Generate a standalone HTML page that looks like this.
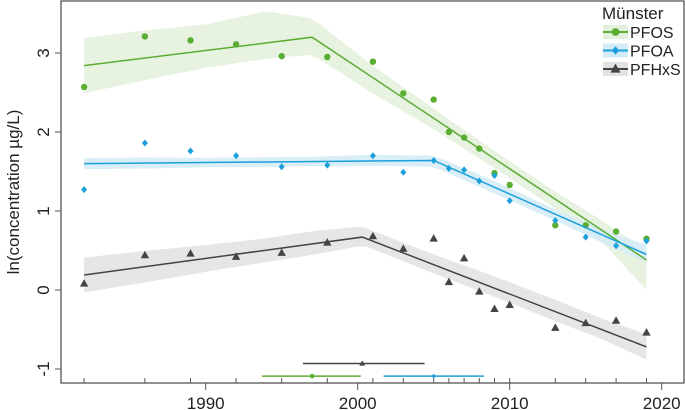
<!DOCTYPE html>
<html><head><meta charset="utf-8"><style>
body{margin:0;background:#fff}
svg{display:block;font-family:"Liberation Sans",Arial,sans-serif}
</style></head><body>
<svg id="chart" width="685" height="410"></svg>
<script>
const years=[1982,1986,1989,1992,1995,1998,2001,2003,2005,2006,2007,2008,2009,2010,2013,2015,2017,2019];
const pfos=[2.57,3.21,3.16,3.11,2.96,2.95,2.89,2.49,2.41,2.0,1.93,1.79,1.48,1.33,0.82,0.82,0.74,0.65];
const pfoa=[1.27,1.86,1.76,1.70,1.56,1.58,1.70,1.49,1.64,1.54,1.52,1.38,1.45,1.13,0.88,0.67,0.56,0.62];
const pfhxs=[0.08,0.44,0.46,0.42,0.47,0.60,0.68,0.52,0.65,0.10,0.40,-0.02,-0.24,-0.19,-0.48,-0.42,-0.39,-0.54];
const pfosFitX=[1982,1997,2019], pfosFitY=[2.84,3.2,0.38];
const pfoaFitX=[1982,2005,2019], pfoaFitY=[1.60,1.64,0.45];
const pfhxsFitX=[1982,2000.3,2019], pfhxsFitY=[0.19,0.67,-0.72];
const bandX=[1982,1986,1990,1994,1997,2001,2005,2009,2013,2016,2019];
const pfosBandUp=[0.35,0.35,0.33,0.4,0.24,0.15,0.12,0.1,0.1,0.12,0.12];
const pfosBandLo=[0.35,0.28,0.22,0.2,0.22,0.2,0.14,0.12,0.12,0.14,0.38];
const pfoaBandUp=[0.07,0.07,0.06,0.06,0.06,0.08,0.06,0.08,0.06,0.07,0.12];
const pfoaBandLo=[0.07,0.07,0.06,0.06,0.06,0.06,0.08,0.08,0.08,0.1,0.1];
const pfhxsBandUp=[0.22,0.2,0.17,0.15,0.16,0.13,0.13,0.15,0.15,0.14,0.16];
const pfhxsBandLo=[0.22,0.2,0.17,0.15,0.14,0.1,0.11,0.11,0.12,0.12,0.16];
const breakYear=[1997,2005,2000.3], breakLo=[1993.7,2001.7,1996.4], breakHi=[2000.2,2008.3,2004.4], breakVal=[-1.09,-1.09,-0.93];
const xTicks=[1990,2000,2010,2020], yTicks=[-1,0,1,2,3];

const NS="http://www.w3.org/2000/svg", svg=document.getElementById('chart');
const X=y=>357.7+15.2*(y-2000), Y=v=>290-79*v;
function el(t,a,p){const e=document.createElementNS(NS,t);for(const k in a)e.setAttribute(k,a[k]);(p||svg).appendChild(e);return e;}
function interp(xs,ys,x){for(let i=0;i<xs.length-1;i++){if(x<=xs[i+1]||i==xs.length-2){const t=(x-xs[i])/(xs[i+1]-xs[i]);return ys[i]+t*(ys[i+1]-ys[i]);}}}
const series=[
 {name:'pfos',label:'PFOS',c:'#5aae32',band:'#e3f0dc',vals:pfos,fx:pfosFitX,fy:pfosFitY,up:pfosBandUp,lo:pfosBandLo,m:'circle'},
 {name:'pfoa',label:'PFOA',c:'#1aa0db',band:'#d3ebf6',vals:pfoa,fx:pfoaFitX,fy:pfoaFitY,up:pfoaBandUp,lo:pfoaBandLo,m:'diamond'},
 {name:'pfhxs',label:'PFHxS',c:'#444444',band:'#e2e2e2',vals:pfhxs,fx:pfhxsFitX,fy:pfhxsFitY,up:pfhxsBandUp,lo:pfhxsBandLo,m:'tri'}];
function marker(s,x,y,g,sz){sz=sz||1;let e;
 if(s.m=='circle')e=el('circle',{cx:x,cy:y,r:3.2*sz,fill:s.c},g);
 else if(s.m=='diamond')e=el('path',{d:`M${x} ${y-3.5*sz}L${x+3*sz} ${y}L${x} ${y+3.5*sz}L${x-3*sz} ${y}Z`,fill:s.c},g);
 else e=el('path',{d:`M${x} ${y-4.5*sz}L${x+4.2*sz} ${y+3*sz}L${x-4.2*sz} ${y+3*sz}Z`,fill:s.c},g);
 return e;}
series.forEach(s=>{const g=el('g',{});
 
 
 const n=60,a=[],b=[];for(let i=0;i<=n;i++){const yr=1982+37*i/n;const f=interp(s.fx,s.fy,yr);a.push(X(yr)+','+Y(f+interp(bandX,s.up,yr)));b.unshift(X(yr)+','+Y(f-interp(bandX,s.lo,yr)));}
 el('polygon',{points:a.concat(b).join(' '),fill:s.band,'fill-opacity':0.85},g);});
series.forEach(s=>{const l=el('polyline',{points:s.fx.map((x,i)=>X(x)+','+Y(s.fy[i])).join(' '),fill:'none',stroke:s.c,'stroke-width':1.5});
 
 
 const g=el('g',{});
 
 
 years.forEach((yr,i)=>{const p=marker(s,X(yr),Y(s.vals[i]),g);
  
  });});
series.forEach((s,si)=>{const g=el('g',{});
 
 
 const y=Y(breakVal[si]);el('line',{x1:X(breakLo[si]),x2:X(breakHi[si]),y1:y,y2:y,stroke:s.c,'stroke-width':1.5},g);marker(s,X(breakYear[si]),y,g,0.7);});
const fr=el('rect',{x:61,y:1,width:623,height:382,fill:'none',stroke:'#555','stroke-width':1.3});


years.forEach(yr=>{el('line',{x1:X(yr),x2:X(yr),y1:383,y2:378,stroke:'#555'});});
xTicks.forEach(t=>{el('line',{x1:X(t),x2:X(t),y1:383,y2:390,stroke:'#555'});
 const tx=el('text',{x:X(t),y:409,'text-anchor':'middle','font-size':17,fill:'#222'});tx.textContent=t;
 
 });
yTicks.forEach(t=>{el('line',{x1:55,x2:61,y1:Y(t),y2:Y(t),stroke:'#555'});
 const tx=el('text',{x:0,y:0,'text-anchor':'middle','font-size':17,fill:'#222',transform:`translate(49 ${Y(t)}) rotate(-90)`});tx.textContent=t;
 
 });
const yt=el('text',{x:0,y:0,'text-anchor':'middle','font-size':17,fill:'#222',transform:'translate(19 192) rotate(-90)'});yt.textContent='ln(concentration µg/L)';


const lg=el('g',{});


const lt=el('text',{x:602,y:19,'font-size':17,fill:'#222'},lg);lt.textContent='Münster';
series.forEach((s,i)=>{const y=32+18.5*i;const g=el('g',{},lg);
 
 
 el('rect',{x:603,y:y-7,width:25,height:14,fill:s.band},g);
 el('line',{x1:603,x2:628,y1:y,y2:y,stroke:s.c,'stroke-width':2},g);marker(s,615.5,y,g,1.2);
 const t=el('text',{x:630,y:y+6,'font-size':16,fill:'#222'},g);t.textContent=s.label;});
</script>
</body></html>
